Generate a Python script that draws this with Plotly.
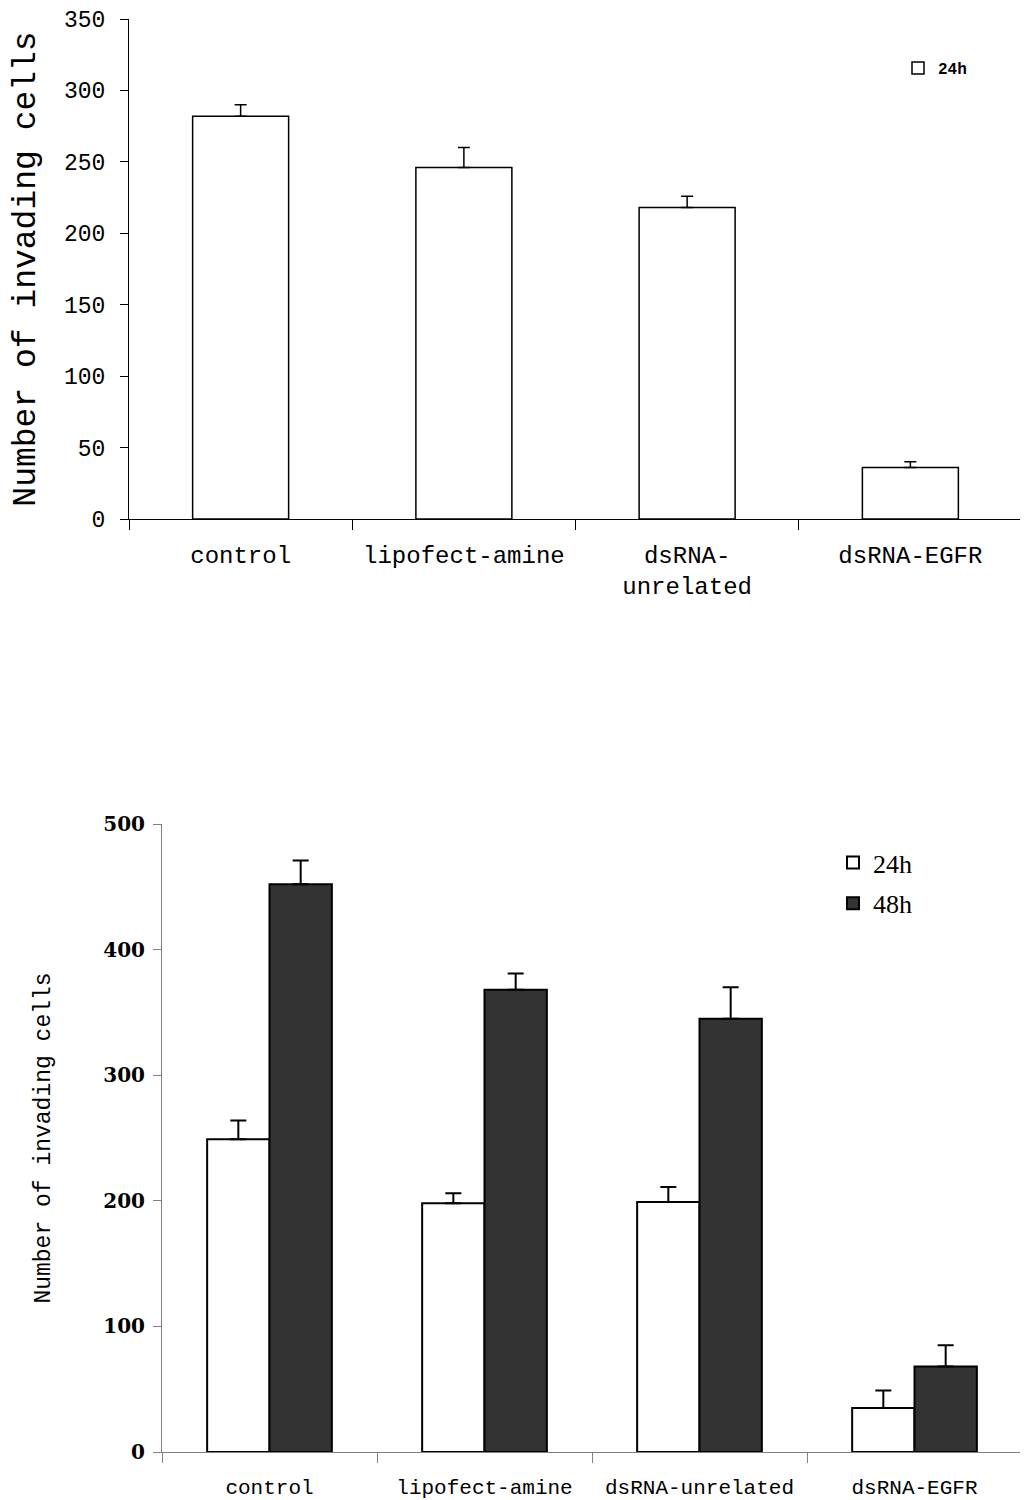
import plotly.graph_objects as go

# ---- data ----
categories_top = ["control", "lipofect-amine", "dsRNA-<br>unrelated", "dsRNA-EGFR"]
top_24h = [282, 246, 218, 36]
top_24h_err = [8, 14, 8, 4]

categories_bottom = ["control", "lipofect-amine", "dsRNA-unrelated", "dsRNA-EGFR"]
bot_24h = [249, 198, 199, 35]
bot_24h_err = [15, 8, 12, 14]
bot_48h = [452, 368, 345, 68]
bot_48h_err = [19, 13, 25, 17]

top_ticks = [0, 50, 100, 150, 200, 250, 300, 350]
bot_ticks = [0, 100, 200, 300, 400, 500]

MONO = "Liberation Mono"
SERIF = "DejaVu Serif"

fig = go.Figure()

fig.add_trace(go.Bar(
    x=categories_top, y=top_24h, name="24h", showlegend=True,
    marker=dict(color="white", line=dict(color="black", width=1.5)),
    error_y=dict(type="data", array=top_24h_err, arrayminus=[0]*4, symmetric=False,
                 color="black", thickness=1.5, width=6),
    xaxis="x", yaxis="y", legend="legend",
))

fig.add_trace(go.Bar(
    x=categories_bottom, y=bot_24h, name="24h", showlegend=True, legendgroup="g24",
    marker=dict(color="white", line=dict(color="black", width=2)),
    error_y=dict(type="data", array=bot_24h_err, arrayminus=[0]*4, symmetric=False,
                 color="black", thickness=2, width=8),
    xaxis="x2", yaxis="y2", legend="legend2",
    width=0.29, offset=-0.29,
))
fig.add_trace(go.Bar(
    x=categories_bottom, y=bot_48h, name="48h", showlegend=True, legendgroup="g48",
    marker=dict(color="#333333", line=dict(color="black", width=2)),
    error_y=dict(type="data", array=bot_48h_err, arrayminus=[0]*4, symmetric=False,
                 color="black", thickness=2, width=8),
    xaxis="x2", yaxis="y2", legend="legend2",
    width=0.29, offset=0.0,
))

W, H = 1028, 1500
OFF = 8  # default page body margin

def px(x):
    return (x - OFF) / W

def py(y):
    return 1 - (y - OFF) / H

fig.update_layout(
    width=W, height=H,
    margin=dict(l=0, r=0, t=0, b=0, autoexpand=False),
    paper_bgcolor="white", plot_bgcolor="white",
    barmode="group", bargap=0.57, showlegend=True,
    font=dict(family=MONO, color="black"),
    xaxis=dict(domain=[px(129), px(1022)], anchor="y", range=[-0.5, 3.5], automargin=False,
               showline=True, linecolor="black", linewidth=1,
               ticks="outside", tickson="boundaries", ticklen=10, tickcolor="black",
               ticklabelstandoff=14,
               tickfont=dict(family=MONO, size=24), showgrid=False, zeroline=False),
    yaxis=dict(domain=[py(519), py(19)], anchor="x", range=[0, 350], automargin=False,
               tickvals=top_ticks, showline=True, linecolor="black", linewidth=1,
               ticks="outside", ticklen=8, tickcolor="black", ticklabelstandoff=10,
               tickfont=dict(family=MONO, size=23), showgrid=False, zeroline=False,
               title=dict(text="Number of invading cells", font=dict(family=MONO, size=33),
                          standoff=20)),
    xaxis2=dict(domain=[px(162), px(1022)], anchor="y2", range=[-0.5, 3.5], automargin=False,
                showline=True, linecolor="#808080", linewidth=1,
                ticks="outside", tickson="boundaries", ticklen=10, tickcolor="#808080",
                ticklabelstandoff=16,
                tickfont=dict(family=MONO, size=21), showgrid=False, zeroline=False),
    yaxis2=dict(domain=[py(1452), py(824)], anchor="x2", range=[0, 500], automargin=False,
                tickvals=bot_ticks, showline=True, linecolor="#808080", linewidth=1,
                ticks="outside", ticklen=8, tickcolor="#808080", ticklabelstandoff=4,
                tickfont=dict(family=SERIF, size=20, weight="bold"),
                showgrid=False, zeroline=False,
                title=dict(text="Number of invading cells", font=dict(family=MONO, size=23),
                           standoff=46)),
    legend=dict(x=px(898), y=py(51), xanchor="left", yanchor="top",
                font=dict(family=MONO, size=16, weight="bold"), bgcolor="rgba(0,0,0,0)",
                itemwidth=30, tracegroupgap=0),
    legend2=dict(x=px(833), y=py(839), xanchor="left", yanchor="top",
                 font=dict(family="Liberation Serif", size=26), bgcolor="rgba(0,0,0,0)",
                 itemwidth=30, traceorder="grouped", tracegroupgap=4),
)

fig.write_html("out.html")
